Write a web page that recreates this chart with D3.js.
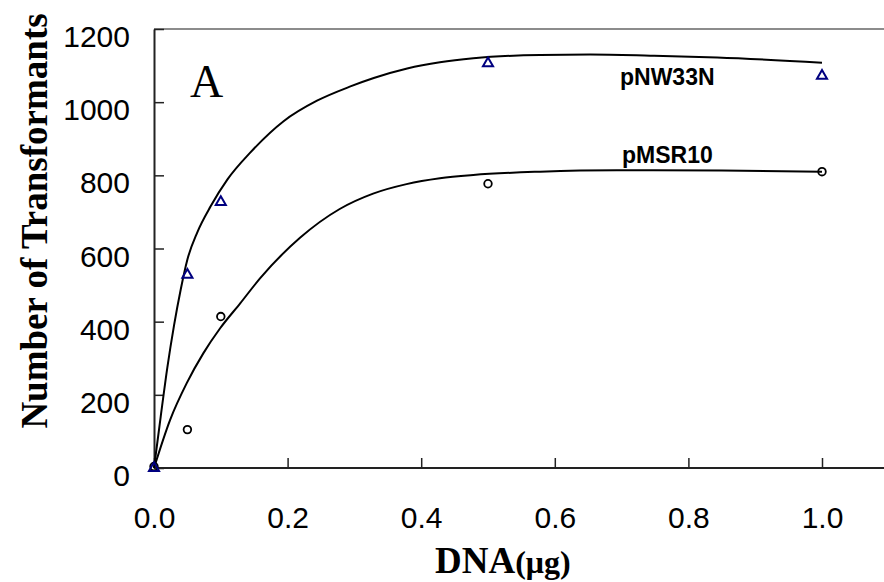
<!DOCTYPE html>
<html>
<head>
<meta charset="utf-8">
<script src="https://cdn.jsdelivr.net/npm/d3@7"></script>
<style>
  body { margin: 0; background: #fff; }
  svg { display: block; }
</style>
</head>
<body>
<div id="chart"></div>
<script>
// measured points (DNA in ug, number of transformants)
var dnaDoses = [0, 0.05, 0.1, 0.5, 1.0];
var pNW33N = [0, 528, 727, 1106, 1072];
var pMSR10 = [4, 105, 414, 777, 810];

// fitted curves
var fitNW33N_x = [0, 0.01, 0.02, 0.03, 0.04, 0.05, 0.065, 0.085, 0.11, 0.144, 0.194, 0.244, 0.294, 0.329, 0.379, 0.428, 0.478, 0.578, 0.653, 0.743, 0.843, 1.0];
var fitNW33N_y = [0, 140, 275, 390, 488, 570, 645, 716, 789, 862, 948, 1004, 1043, 1066, 1092, 1109, 1120, 1129, 1130, 1127, 1122, 1108];
var fitMSR10_x = [0, 0.024, 0.049, 0.074, 0.099, 0.129, 0.159, 0.219, 0.278, 0.328, 0.378, 0.428, 0.478, 0.578, 0.693, 0.85, 1.0];
var fitMSR10_y = [0, 131, 232, 314, 382, 450, 519, 630, 708, 750, 776, 792, 801, 810, 814, 813, 810];

var xTicks = [0, 0.2, 0.4, 0.6, 0.8, 1.0];
var yTicks = [0, 200, 400, 600, 800, 1000, 1200];

var svgWidth = 884;
var svgHeight = 582;
var sans = "'Liberation Sans', Arial, sans-serif";
var serif = "'Liberation Serif', 'Times New Roman', serif";

var svg = d3.select("#chart")
  .append("svg")
  .attr("width", svgWidth)
  .attr("height", svgHeight);

// scales
var x = d3.scaleLinear().domain([0, 1]).range([154, 822]);
var y = d3.scaleLinear().domain([0, 1200]).range([468, 29]);

// top frame line (grey)
svg.append("line")
  .attr("x1", x(0)).attr("x2", svgWidth)
  .attr("y1", y(1200)).attr("y2", y(1200))
  .attr("stroke", "#8c8c8c")
  .attr("stroke-width", 2);

// y axis
var yAxis = svg.append("g")
  .attr("transform", `translate(${x(0)},0)`)
  .call(d3.axisLeft(y).tickValues(yTicks).tickFormat(d3.format("d"))
    .tickSizeInner(-10).tickSizeOuter(0).tickPadding(24));
yAxis.select(".domain").attr("stroke", "#222").attr("stroke-width", 2);
yAxis.selectAll(".tick line").attr("stroke", "#222").attr("stroke-width", 1.5);
yAxis.selectAll("text")
  .attr("y", 8)
  .attr("font-family", sans)
  .attr("font-size", "30px")
  .attr("fill", "#000");

// x axis
var xAxis = svg.append("g")
  .attr("transform", `translate(0,${y(0)})`)
  .call(d3.axisBottom(x).tickValues(xTicks).tickFormat(d3.format(".1f"))
    .tickSizeInner(-10).tickSizeOuter(0));
xAxis.select(".domain").remove();
xAxis.selectAll(".tick line").attr("stroke", "#222").attr("stroke-width", 1.5);
xAxis.selectAll("text")
  .attr("y", 49)
  .attr("dy", "0.35em")
  .attr("font-family", sans)
  .attr("font-size", "30px")
  .attr("fill", "#000");
xAxis.append("line")
  .attr("x1", x(0)).attr("x2", svgWidth)
  .attr("y1", 0).attr("y2", 0)
  .attr("stroke", "#222")
  .attr("stroke-width", 2);

// fitted curves
var line = d3.line()
  .x(d => x(d[0]))
  .y(d => y(d[1]))
  .curve(d3.curveMonotoneX);

svg.append("path")
  .datum(d3.zip(fitNW33N_x, fitNW33N_y))
  .attr("d", line)
  .attr("fill", "none")
  .attr("stroke", "#000")
  .attr("stroke-width", 2);

svg.append("path")
  .datum(d3.zip(fitMSR10_x, fitMSR10_y))
  .attr("d", line)
  .attr("fill", "none")
  .attr("stroke", "#000")
  .attr("stroke-width", 2);

// pMSR10 markers: open circles
svg.selectAll(".pt-msr")
  .data(d3.zip(dnaDoses, pMSR10))
  .enter()
  .append("circle")
  .attr("class", "pt-msr")
  .attr("cx", d => x(d[0]))
  .attr("cy", d => y(d[1]))
  .attr("r", 3.8)
  .attr("fill", "none")
  .attr("stroke", "#000")
  .attr("stroke-width", 1.8);

// pNW33N markers: open navy triangles
var tri = d3.symbol().type(d3.symbolTriangle).size(44);
svg.selectAll(".pt-nw")
  .data(d3.zip(dnaDoses, pNW33N))
  .enter()
  .append("path")
  .attr("class", "pt-nw")
  .attr("transform", d => `translate(${x(d[0])},${y(d[1])})`)
  .attr("d", tri)
  .attr("fill", "none")
  .attr("stroke", "#000080")
  .attr("stroke-width", 2);

// series labels
svg.append("text")
  .attr("x", 620).attr("y", 85)
  .attr("font-family", sans)
  .attr("font-weight", "bold")
  .attr("font-size", "23px")
  .text("pNW33N");

svg.append("text")
  .attr("x", 622).attr("y", 163)
  .attr("font-family", sans)
  .attr("font-weight", "bold")
  .attr("font-size", "23px")
  .text("pMSR10");

// panel letter
svg.append("text")
  .attr("x", 190).attr("y", 97)
  .attr("font-family", serif)
  .attr("font-size", "46px")
  .text("A");

// axis titles
svg.append("text")
  .attr("transform", "translate(47,221) rotate(-90)")
  .attr("text-anchor", "middle")
  .attr("font-family", serif)
  .attr("font-weight", "bold")
  .attr("font-size", "37px")
  .text("Number of Transformants");

var xTitle = svg.append("text")
  .attr("x", 435).attr("y", 573)
  .attr("font-family", serif)
  .attr("font-weight", "bold");
xTitle.append("tspan").attr("font-size", "37px").text("DNA");
xTitle.append("tspan").attr("font-size", "32px").text("(μg)");
</script>
</body>
</html>
